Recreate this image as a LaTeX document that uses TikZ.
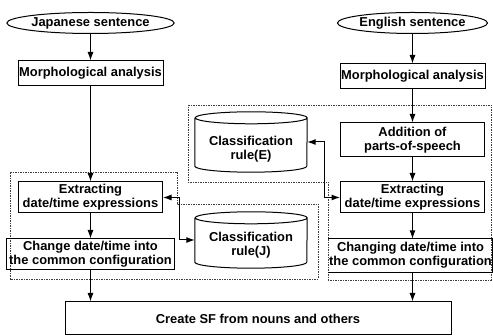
\documentclass[tikz,border=0pt]{standalone}
\usepackage{fontspec}
\setmainfont{Liberation Sans}
\usetikzlibrary{arrows.meta,shapes.geometric,calc}
\begin{document}
\begin{tikzpicture}[x=1pt,y=1pt,
  every node/.style={font=\fontsize{12.9}{14}\selectfont\bfseries, align=center, inner sep=0pt},
  box/.style={draw, line width=1pt},
  oval/.style={draw, ellipse, line width=1pt, inner sep=0pt},
  flow/.style={line width=1pt, -{Latex[length=8.5pt,width=6pt]}},
  both/.style={line width=1pt, {Latex[length=8.5pt,width=6pt]}-{Latex[length=8.5pt,width=6pt]}},
  region/.style={line width=0.7pt, dash pattern=on 1.5pt off 1pt, black!75},
  cyl/.style={line width=1pt}
]
\useasboundingbox (0,0) rectangle (493,336);

% dotted regions
\draw[region] (10,164) -- (177,164) -- (177,132) -- (318,132) -- (318,57) -- (10,57) -- cycle;
\draw[region] (188,231) -- (491,231) -- (491,56) -- (328,56) -- (328,154) -- (188,154) -- cycle;

% left column
\node[oval, minimum width=140, minimum height=21] (jp) at (90.5,313) {Japanese sentence};
\node[box, minimum width=145, minimum height=25] (mL) at (90.5,262.5) {Morphological analysis};
\node[box, minimum width=144, minimum height=31] (eL) at (90.5,138.5) {Extracting\\date/time expressions};
\node[box, minimum width=168, minimum height=31] (cL) at (90.5,81.5) {Change date/time into\\the common configuration};

% right column
\node[oval, minimum width=136, minimum height=21] (en) at (412.5,313) {English sentence};
\node[box, minimum width=145, minimum height=25] (mR) at (412.5,259.5) {Morphological analysis};
\node[box, minimum width=144, minimum height=34] (aR) at (412.5,196) {Addition of\\parts-of-speech};
\node[box, minimum width=144, minimum height=31] (eR) at (412.5,138.5) {Extracting\\date/time expressions};
\node[minimum width=164.5, minimum height=33] (cR) at (410.5,80.5) {Changing date/time into\\the common configuration};
\draw[line width=1pt] (cR.north west) -- (cR.north east) -- (cR.south east) -- (cR.south west);

% bottom
\node[box, minimum width=386, minimum height=33] (sf) at (258,17.5) {Create SF from nouns and others};

% cylinders
\node[minimum width=112, minimum height=60] (cylE) at (251,194) {};
\draw[cyl] ($(cylE.north west)+(0,-6)$) -- ($(cylE.south west)+(0,6)$)
  arc[start angle=180, end angle=360, x radius=56, y radius=6]
  -- ($(cylE.north east)+(0,-6)$)
  arc[start angle=0, end angle=360, x radius=56, y radius=6];
\node (cylEt) at (251,187) {Classification\\rule(E)};

\node[minimum width=112, minimum height=56] (cylJ) at (251,96) {};
\draw[cyl] ($(cylJ.north west)+(0,-6)$) -- ($(cylJ.south west)+(0,6)$)
  arc[start angle=180, end angle=360, x radius=56, y radius=6]
  -- ($(cylJ.north east)+(0,-6)$)
  arc[start angle=0, end angle=360, x radius=56, y radius=6];
\node (cylJt) at (251,91) {Classification\\rule(J)};

% flows
\draw[flow] (jp) -- (mL);
\draw[flow] (mL) -- (eL);
\draw[flow] (eL) -- (cL);
\draw[flow] (cL.south) -- (cL.south |- sf.north);

\draw[flow] (en) -- (mR);
\draw[flow] (mR) -- (aR);
\draw[flow] (aR) -- (eR);
\draw[flow] (eR.south) -- (eR.south |- cR.north);
\draw[flow] (eR.south |- cR.south) -- (eR.south |- sf.north);

% rule links
\draw[both] (eL.east) -- ++(16,0) |- (cylJ.west);
\draw[both] (eR.west) -- ++(-16,0) |- (cylE.east);
\end{tikzpicture}
\end{document}
